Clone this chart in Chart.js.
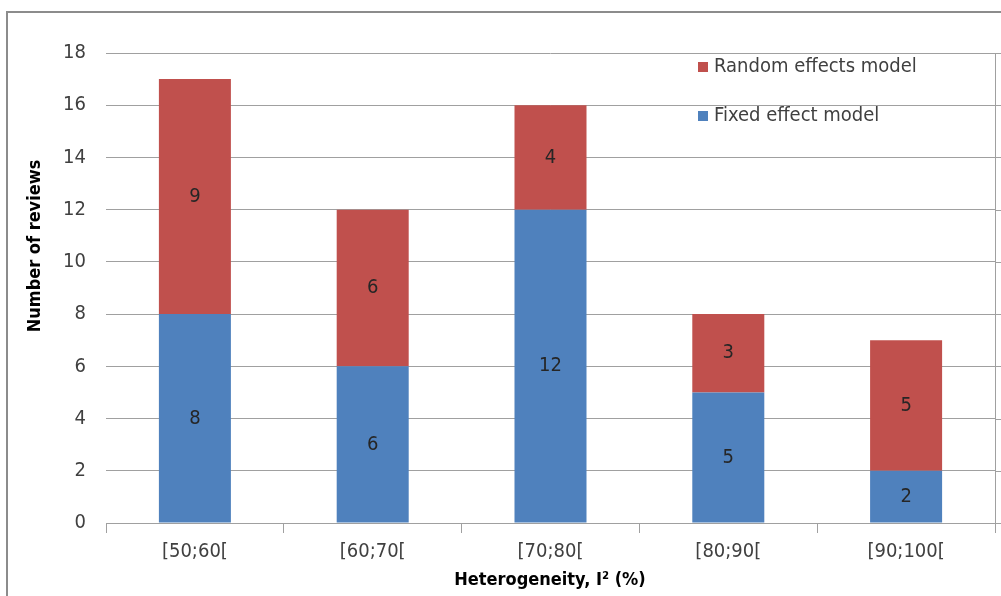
<!DOCTYPE html>
<html>
<head>
<meta charset="utf-8">
<script src="https://cdn.jsdelivr.net/npm/chart.js@4.4.1/dist/chart.umd.min.js"></script>
<style>
  html, body { margin: 0; padding: 0; background: #fff; }
  #wrap { width: 1001px; height: 596px; position: relative; }
</style>
</head>
<body>
<div id="wrap"><canvas id="chart"></canvas></div>
<script>
const categories = ['[50;60[', '[60;70[', '[70;80[', '[80;90[', '[90;100['];
const fixedValues = [8, 6, 12, 5, 2];
const randomValues = [9, 6, 4, 3, 5];
const yTicks = [0, 2, 4, 6, 8, 10, 12, 14, 16, 18];

const FONT = "'Liberation Sans Narrow', 'DejaVu Sans Condensed', 'Noto Sans', sans-serif";
const BLUE = '#4f81bd';
const RED = '#c0504d';
const GRID = '#a0a0a0';

// frame, right plot border, axis titles, legend and bar labels
const decorations = {
  id: 'decorations',
  afterDraw(chart) {
    const { ctx, chartArea } = chart;
    const yScale = chart.scales.y;
    ctx.save();

    // outer chart frame (left and top only visible)
    ctx.strokeStyle = '#8c8c8c';
    ctx.lineWidth = 2;
    ctx.beginPath();
    ctx.moveTo(7, 600);
    ctx.lineTo(7, 12);
    ctx.lineTo(1001, 12);
    ctx.stroke();

    // plot-area right border and gridline stubs past it
    ctx.strokeStyle = GRID;
    ctx.lineWidth = 1;
    ctx.beginPath();
    ctx.moveTo(chartArea.right + 0.5, chartArea.top);
    ctx.lineTo(chartArea.right + 0.5, chartArea.bottom + 10);
    yTicks.forEach(v => {
      const y = Math.round(yScale.getPixelForValue(v)) + 0.5;
      ctx.moveTo(chartArea.right, y);
      ctx.lineTo(1001, y);
    });
    ctx.stroke();

    // bar value labels
    ctx.fillStyle = '#262626';
    ctx.font = '20px ' + FONT;
    ctx.textAlign = 'center';
    ctx.textBaseline = 'middle';
    chart.data.datasets.forEach((ds, i) => {
      chart.getDatasetMeta(i).data.forEach((bar, j) => {
        const y = (bar.y + bar.base) / 2;
        ctx.fillText(String(ds.data[j]), bar.x, y);
      });
    });

    // axis titles
    ctx.fillStyle = '#000';
    ctx.font = 'bold 18px ' + FONT;
    ctx.fillText('Heterogeneity, I² (%)', 550, 580);
    ctx.save();
    ctx.translate(35, 246);
    ctx.rotate(-Math.PI / 2);
    ctx.fillText('Number of reviews', 0, 0);
    ctx.restore();

    // legend (reverse order: random first)
    const items = [chart.data.datasets[1], chart.data.datasets[0]];
    ctx.font = '20px ' + FONT;
    ctx.textAlign = 'left';
    items.forEach((ds, k) => {
      const y = 67 + k * 49;
      ctx.fillStyle = ds.backgroundColor;
      ctx.fillRect(698, y - 5, 10, 10);
      ctx.fillStyle = '#404040';
      ctx.fillText(ds.label, 714, y);
    });

    ctx.restore();
  }
};

new Chart(document.getElementById('chart'), {
  type: 'bar',
  data: {
    labels: categories,
    datasets: [
      { label: 'Fixed effect model', data: fixedValues, backgroundColor: BLUE, borderWidth: 0 },
      { label: 'Random effects model', data: randomValues, backgroundColor: RED, borderWidth: 0 }
    ]
  },
  options: {
    responsive: true,
    maintainAspectRatio: false,
    animation: false,
    layout: { padding: { top: 53, right: 6, left: 0, bottom: 0 } },
    plugins: { legend: { display: false }, tooltip: { enabled: false } },
    datasets: { bar: { categoryPercentage: 0.405, barPercentage: 1 } },
    scales: {
      x: {
        stacked: true,
        afterFit(scale) { scale.height = 73; },
        grid: { offset: true, drawOnChartArea: false, drawTicks: true, tickLength: 10, color: GRID },
        border: { display: true, color: GRID },
        ticks: { color: '#404040', font: { family: FONT, size: 20 }, padding: 7 }
      },
      y: {
        stacked: true,
        min: 0,
        max: 18,
        afterFit(scale) { scale.width = 106; },
        afterBuildTicks(scale) { scale.ticks = yTicks.map(v => ({ value: v })); },
        grid: { drawTicks: false, color: GRID },
        border: { display: false },
        ticks: { color: '#404040', font: { family: FONT, size: 20 }, padding: 20 }
      }
    }
  },
  plugins: [decorations]
});
</script>
</body>
</html>
